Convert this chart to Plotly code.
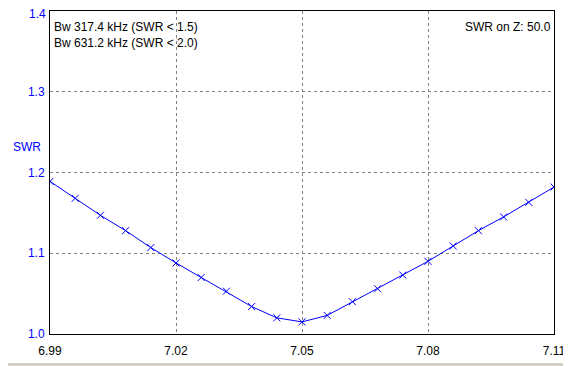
import plotly.graph_objects as go

freq_mhz = [6.990, 6.996, 7.002, 7.008, 7.014, 7.020, 7.026, 7.032, 7.038, 7.044, 7.050,
            7.056, 7.062, 7.068, 7.074, 7.080, 7.086, 7.092, 7.098, 7.104, 7.110]
swr = [1.189, 1.168, 1.147, 1.128, 1.107, 1.088, 1.070, 1.053, 1.034, 1.020, 1.015,
       1.023, 1.040, 1.056, 1.073, 1.090, 1.109, 1.128, 1.145, 1.163, 1.182]
x_ticks = [6.99, 7.02, 7.05, 7.08, 7.11]
x_tick_labels = ["6.99", "7.02", "7.05", "7.08", "7.11"]
y_ticks = [1.0, 1.1, 1.2, 1.3, 1.4]
y_tick_labels = ["1.0", "1.1", "1.2", "1.3", "1.4"]
info_left = ["Bw 317.4 kHz (SWR < 1.5)", "Bw 631.2 kHz (SWR < 2.0)"]
info_right = "SWR on Z: 50.0"

FONT = "Liberation Sans, Arial, sans-serif"
BLUE = "#0000ff"

# page body has an 8px margin; size the figure so the plot area lands at x 50-554, y 11-334
fig = go.Figure()
fig.add_trace(go.Scatter(
    x=freq_mhz, y=swr, mode="lines+markers",
    line=dict(color=BLUE, width=1),
    marker=dict(symbol="x-thin", size=7, line=dict(color=BLUE, width=1)),
    showlegend=False, hoverinfo="skip",
))

# the top tick label would be clipped at the figure edge, so it is drawn as an annotation nudged down
shown_y_labels = y_tick_labels[:-1] + [""]

fig.update_layout(
    width=563, height=358,
    margin=dict(l=42, r=17, t=3, b=32, autoexpand=False),
    paper_bgcolor="white", plot_bgcolor="white",
    font=dict(family=FONT, size=12, color="black"),
    xaxis=dict(
        range=[6.99, 7.11], tickvals=x_ticks, ticktext=x_tick_labels,
        showgrid=True, gridcolor="#808080", griddash="3px,3px", gridwidth=1,
        showline=True, linecolor="black", linewidth=1, mirror=True,
        ticks="", ticklen=0, zeroline=False, automargin=False,
        ticklabelstandoff=6, ticklabeloverflow="allow",
        tickfont=dict(family=FONT, size=12, color="black"),
    ),
    yaxis=dict(
        range=[1.0, 1.4], tickvals=y_ticks, ticktext=shown_y_labels,
        showgrid=True, gridcolor="#808080", griddash="3px,3px", gridwidth=1,
        showline=True, linecolor="black", linewidth=1, mirror=True,
        ticks="", ticklen=0, zeroline=False, automargin=False,
        ticklabelstandoff=2, ticklabeloverflow="allow",
        tickfont=dict(family=FONT, size=12, color=BLUE),
    ),
    annotations=[
        dict(text=y_tick_labels[-1], xref="paper", yref="y", x=0, y=y_ticks[-1],
             xanchor="right", yanchor="middle", xshift=-2, yshift=-3,
             showarrow=False, font=dict(family=FONT, size=12, color=BLUE)),
        dict(text=info_left[0], xref="paper", yref="paper", x=0, y=1,
             xanchor="left", yanchor="top", xshift=2, yshift=-7,
             showarrow=False, font=dict(family=FONT, size=12, color="black")),
        dict(text=info_left[1], xref="paper", yref="paper", x=0, y=1,
             xanchor="left", yanchor="top", xshift=2, yshift=-23,
             showarrow=False, font=dict(family=FONT, size=12, color="black")),
        dict(text=info_right, xref="paper", yref="paper", x=1, y=1,
             xanchor="right", yanchor="top", xshift=-1, yshift=-7,
             showarrow=False, font=dict(family=FONT, size=12, color="black")),
        dict(text="SWR", xref="paper", yref="paper", x=0, y=(334 - 147) / 323,
             xanchor="left", yanchor="middle", xshift=-39,
             showarrow=False, font=dict(family=FONT, size=12, color=BLUE)),
    ],
    shapes=[
        dict(type="rect", xref="paper", yref="paper",
             x0=-42 / 504, x1=1 + 17 / 504, y0=-32 / 323, y1=-29 / 323,
             fillcolor="#d4d0c8", line=dict(width=0), layer="below"),
    ],
)

fig.write_html("out.html")
